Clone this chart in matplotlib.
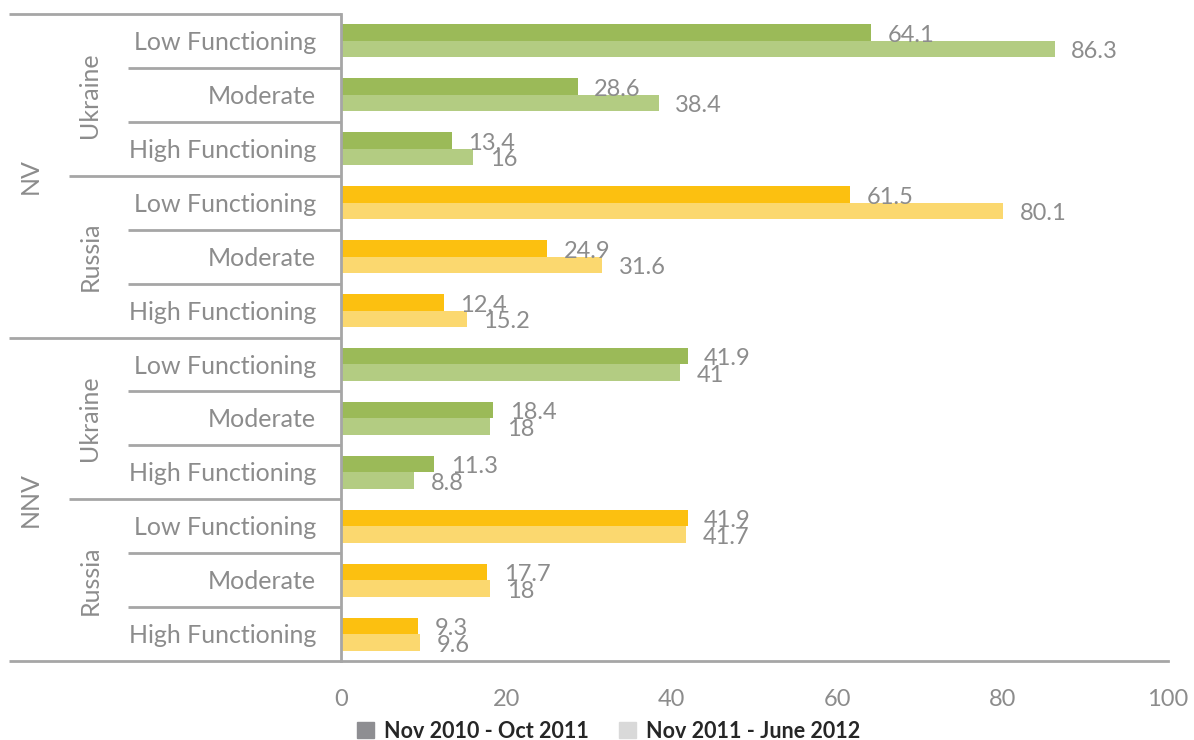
import matplotlib
matplotlib.use("Agg")
import matplotlib.pyplot as plt
from matplotlib.patches import Patch
import matplotlib.transforms as mtransforms

# categories top -> bottom
levels = ["Low Functioning", "Moderate", "High Functioning"]
countries = ["Ukraine", "Russia"]
groups = ["NV", "NNV"]
period1 = "Nov 2010 - Oct 2011"
period2 = "Nov 2011 - June 2012"

vals_p1 = [64.1, 28.6, 13.4, 61.5, 24.9, 12.4,
           41.9, 18.4, 11.3, 41.9, 17.7, 9.3]
vals_p2 = [86.3, 38.4, 16, 80.1, 31.6, 15.2,
           41, 18, 8.8, 41.7, 18, 9.6]
xticks = [0, 20, 40, 60, 80, 100]

C_TXT = "#8c8c8c"; C_LINE = "#a6a6a6"
DARK = {"Ukraine": "#9bba58", "Russia": "#fcc010"}
LIGHT = {"Ukraine": "#b3cc82", "Russia": "#fbd86f"}

plt.rcParams["font.family"] = ["Lato", "DejaVu Sans"]

fig = plt.figure(figsize=(11.94, 7.40), dpi=100)
W, H = 1194, 740
ax = fig.add_axes([341 / W, (H - 661) / H, (1168 - 341) / W, (661 - 14) / H])

labels = [(g, c, l) for g in groups for c in countries for l in levels]
n = len(labels)
h = 0.306
for i, (g, c, l) in enumerate(labels):
    ax.barh(i - h / 2, vals_p1[i], height=h, color=DARK[c], zorder=2)
    ax.barh(i + h / 2, vals_p2[i], height=h, color=LIGHT[c], zorder=2)
    for yy, v in ((i - h / 2, vals_p1[i]), (i + h / 2, vals_p2[i])):
        ax.annotate(f"{v:g}", (v, yy), xytext=(12, -2), textcoords="offset points",
                    ha="left", va="center", color=C_TXT, fontsize=17, zorder=5)

ax.set_xlim(0, 100)
ax.set_ylim(n - 0.5, -0.5)
ax.set_yticks([])
ax.set_xticks(xticks)
ax.tick_params(axis="x", length=0, pad=20, labelsize=17, labelcolor=C_TXT)
for s in ("top", "right"):
    ax.spines[s].set_visible(False)
ax.spines["left"].set_color(C_LINE); ax.spines["left"].set_linewidth(2)
ax.spines["bottom"].set_color(C_LINE); ax.spines["bottom"].set_linewidth(2)

tr = mtransforms.blended_transform_factory(ax.transAxes, ax.transData)
px = lambda x: (x - 341) / (1168 - 341)

# multi-level category axis
for i, (g, c, l) in enumerate(labels):
    ax.text(px(316), i + 0.03, l, transform=tr, ha="right", va="center",
            color=C_TXT, fontsize=18)
for k in range(n + 1):
    y = k - 0.5
    if k % 6 == 0:
        x0 = px(9)
    elif k % 3 == 0:
        x0 = px(69)
    else:
        x0 = px(128)
    ax.plot([x0, 0], [y, y], transform=tr, color=C_LINE, lw=2, clip_on=False,
            solid_capstyle="butt")
for gi, g in enumerate(groups):
    ax.text(px(30), gi * 6 + 2.5, g, transform=tr, rotation=90, ha="center",
            va="center", color=C_TXT, fontsize=18)
    for ci, c in enumerate(countries):
        ax.text(px(90), gi * 6 + ci * 3 + 1, c, transform=tr, rotation=90,
                ha="center", va="center", color=C_TXT, fontsize=18)

handles = [Patch(color="#8e8e92", label=period1), Patch(color="#d9d9d9", label=period2)]
fig.legend(handles=handles, loc="center", bbox_to_anchor=(609 / W, 1 - 731 / H),
           ncol=2, frameon=False, prop={"weight": "bold", "size": 15.5},
           handlelength=0.75, handleheight=0.75, handletextpad=0.5, columnspacing=1.4,
           labelcolor="#262626")

fig.savefig("out.png", dpi=100, facecolor="white")
